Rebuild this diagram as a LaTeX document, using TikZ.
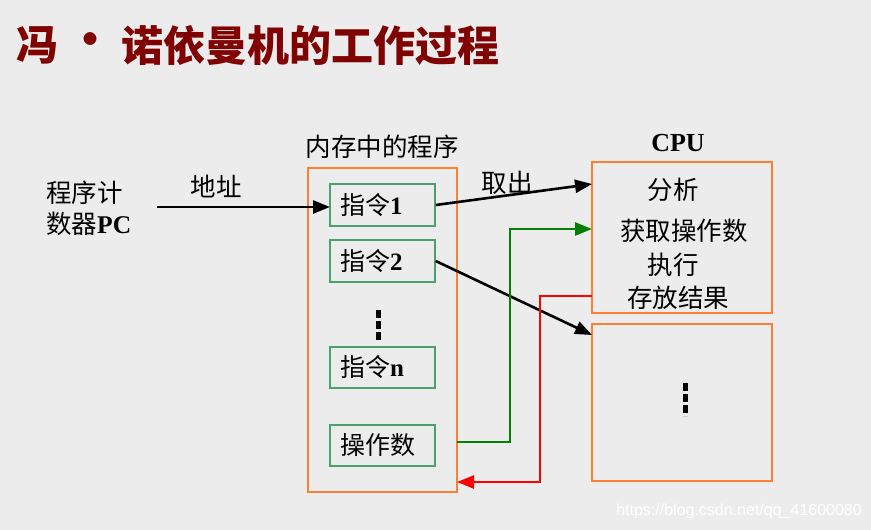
\documentclass[tikz,border=0pt]{standalone}
\usepackage{fontspec}
\setmainfont{Liberation Serif}
\newfontfamily\cjk{Noto Sans CJK SC}
\newfontfamily\wmfont{Liberation Sans}
\usetikzlibrary{arrows.meta}
\definecolor{bg}{RGB}{236,236,236}
\definecolor{titlered}{RGB}{128,0,0}
\definecolor{boxorange}{RGB}{255,128,48}
\definecolor{boxgreen}{RGB}{76,160,112}
\definecolor{linegreen}{RGB}{0,128,0}
\definecolor{linered}{RGB}{255,0,0}
\begin{document}
\begin{tikzpicture}[x=1pt,y=-1pt,
  obox/.style={draw=boxorange,line width=1.5pt,rectangle,inner sep=0pt},
  gbox/.style={draw=boxgreen,line width=1.5pt,rectangle,minimum width=105pt,text width=85pt,align=left,inner xsep=10pt,inner ysep=0pt,font=\fontsize{25}{28}\selectfont\bfseries},
  lbl/.style={font=\fontsize{25.5}{28}\selectfont\cjk,inner sep=0pt},
  arr/.style={line width=2.6pt,-{Triangle[length=17pt,width=13pt]}},
  dotsline/.style={line width=5pt,dash pattern=on 8pt off 3pt}]
\fill[bg] (0,0) rectangle (871,530);
\useasboundingbox (0,0) rectangle (871,530);
% title
\node[anchor=west,inner sep=0pt,text=titlered,font=\fontsize{42}{46}\selectfont\cjk\bfseries] (t1) at (16,45) {冯};
\node[inner sep=0pt,text=titlered,font=\fontsize{46}{46}\selectfont\cjk\bfseries] (t2) at (90,45) {·};
\node[anchor=west,inner sep=0pt,text=titlered,font=\fontsize{42}{46}\selectfont\cjk\bfseries] (t3) at (121,45) {诺依曼机的工作过程};
% memory
\node[obox,minimum width=149pt,minimum height=324pt] (mem) at (382.5,330) {};
\node[lbl] (memlbl) at (382,147) {内存中的程序};
\node[gbox,minimum height=42pt] (i1) at (382.5,205) {{\cjk\mdseries 指令}1};
\node[gbox,minimum height=42pt] (i2) at (382.5,261) {{\cjk\mdseries 指令}2};
\node[gbox,minimum height=41pt] (in) at (382.5,367.5) {{\cjk\mdseries 指令}n};
\node[gbox,minimum height=41pt] (op) at (382.5,445.5) {{\cjk\mdseries 操作数}};
\coordinate (md1) at (378,310);
\coordinate (md2) at (378,342);
\draw[dotsline] (md1) -- (md2);
% CPU
\node[obox,minimum width=180pt,minimum height=151pt] (cpu) at (682,237.5) {};
\node[inner sep=0pt,font=\fontsize{26}{28}\selectfont\bfseries] (cpulbl) at (678,143) {CPU};
\node[lbl] (c1) at (673,190) {分析};
\node[lbl] (c2) at (684,231) {获取操作数};
\node[lbl] (c3) at (673,265) {执行};
\node[lbl] (c4) at (678,298) {存放结果};
% second box
\node[obox,minimum width=180pt,minimum height=157pt] (box2) at (682,402.5) {};
\coordinate (bd1) at (685,383);
\coordinate (bd2) at (685,416);
\draw[dotsline] (bd1) -- (bd2);
% PC
\node[lbl,anchor=west] (pc1) at (46,193) {程序计};
\node[lbl,anchor=west] (pc2) at (46,224) {数器{\rmfamily\bfseries PC}};
\coordinate (pcs) at (157,207);
\coordinate (i1in) at (330,207);
\draw[arr] (pcs) -- (i1in);
\node[lbl] (addr) at (216,187) {地址};
% fetch
\coordinate (cpuA) at (592,184);
\draw[arr] (i1.east) -- (cpuA);
\node[lbl] (fetch) at (507,183) {取出};
% instr 2
\coordinate (b2A) at (592,335);
\draw[arr] (i2.east) -- (b2A);
% green
\coordinate (gs) at (457,442);
\coordinate (gm) at (510,442);
\coordinate (ge) at (592,229);
\draw[arr,color=linegreen] (gs) -- (gm) |- (ge);
% red
\coordinate (rs) at (592,296);
\coordinate (rm) at (540,296);
\coordinate (re) at (457,482);
\draw[arr,color=linered] (rs) -- (rm) |- (re);
% watermark
\node[anchor=east,inner sep=0pt,text=white,font=\fontsize{16}{18}\selectfont\wmfont] (wm) at (862,511) {https://blog.csdn.net/qq\_41600080};
\end{tikzpicture}
\end{document}
